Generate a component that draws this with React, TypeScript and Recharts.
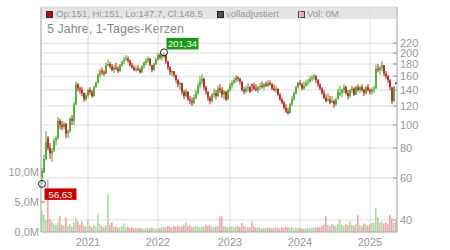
import React from 'react';
import { ComposedChart, Bar, XAxis, YAxis, CartesianGrid, ReferenceDot } from 'recharts';

const UP = '#44a826';
const DOWN = '#c01818';
const VOL_UP = '#aadca0';
const VOL_DOWN = '#f2a4ac';
const AXIS = '#b0b0b0';
const GRID = '#dcdcdc';
const LABEL = '#999';

const YEAR_TICKS = [23, 58, 94, 129, 164];
const YEAR_LABELS = ['2021', '2022', '2023', '2024', '2025'];
const PRICE_TICKS = [40, 60, 80, 100, 120, 140, 160, 180, 200, 220];
const VOLUME_TICKS = [0, 5, 10];

// one candle per ~10 days: [open, high, low, close]
const CANDLES: number[][] = [
  [60, 66, 56.63, 64], [64, 75, 63, 72], [72, 94, 71, 85], [88, 90, 78, 80], [80, 84, 72, 76],
  [76, 80, 70, 78], [78, 88, 77, 86], [86, 90, 82, 88], [88, 108, 87, 104], [104, 106, 96, 100],
  [100, 104, 95, 98], [98, 103, 96, 101], [101, 102, 88, 92], [92, 96, 88, 94], [94, 108, 93, 106],
  [106, 110, 100, 104], [104, 125, 100, 122], [122, 152, 121, 148], [148, 150, 138, 142], [142, 145, 135, 140],
  [140, 144, 132, 136], [136, 137, 125, 128], [128, 136, 126, 133], [133, 142, 130, 140], [140, 144, 134, 137],
  [137, 140, 130, 132], [132, 146, 131, 144], [144, 152, 143, 150], [150, 165, 149, 162], [162, 172, 158, 168],
  [168, 174, 162, 166], [166, 170, 160, 164], [164, 182, 163, 178], [178, 188, 176, 180], [180, 184, 172, 176],
  [176, 180, 168, 170], [170, 178, 165, 174], [174, 182, 170, 172], [172, 176, 165, 168], [168, 180, 167, 178],
  [178, 186, 175, 184], [184, 192, 180, 188], [188, 196, 185, 190], [190, 194, 182, 186], [186, 188, 176, 178],
  [178, 182, 172, 174], [174, 178, 168, 170], [170, 176, 166, 172], [172, 178, 168, 170], [170, 174, 164, 166],
  [166, 178, 165, 176], [176, 184, 172, 182], [182, 190, 178, 186], [186, 194, 182, 190], [190, 190, 176, 178],
  [178, 178, 166, 170], [170, 182, 168, 180], [180, 192, 178, 188], [188, 200, 186, 196], [196, 199, 188, 192],
  [192, 198, 186, 194], [194, 201.34, 190, 196], [196, 197, 180, 184], [184, 186, 170, 174], [174, 176, 162, 166],
  [166, 170, 160, 168], [168, 168, 158, 162], [162, 162, 150, 154], [154, 156, 144, 148], [148, 152, 140, 150],
  [150, 150, 134, 138], [138, 140, 128, 132], [132, 142, 130, 138], [138, 138, 126, 128], [128, 132, 122, 126],
  [126, 130, 120, 124], [124, 134, 122, 130], [130, 140, 128, 136], [136, 150, 134, 146], [146, 160, 142, 152],
  [152, 163, 148, 156], [156, 158, 140, 144], [144, 146, 134, 138], [138, 138, 126, 130], [130, 132, 122, 126],
  [126, 136, 124, 134], [134, 142, 130, 136], [136, 140, 128, 132], [132, 146, 131, 142], [142, 148, 136, 140],
  [140, 144, 130, 134], [134, 140, 128, 138], [138, 138, 126, 128], [128, 142, 127, 140], [140, 150, 138, 146],
  [146, 154, 142, 150], [150, 158, 148, 154], [154, 162, 150, 158], [158, 160, 152, 156], [156, 158, 148, 152],
  [152, 152, 138, 140], [140, 144, 134, 138], [138, 146, 136, 142], [142, 150, 138, 144], [144, 146, 136, 138],
  [148, 149, 138, 146], [146, 150, 140, 142], [142, 148, 138, 140], [140, 146, 136, 144], [144, 150, 140, 146],
  [146, 152, 142, 144], [144, 150, 140, 148], [148, 152, 144, 146], [146, 154, 144, 150], [150, 154, 146, 148],
  [148, 150, 140, 142], [142, 148, 138, 140], [140, 146, 136, 142], [142, 142, 132, 134], [134, 136, 126, 128],
  [128, 130, 122, 124], [124, 126, 116, 118], [118, 122, 112, 114], [114, 118, 110, 112], [112, 124, 112, 122],
  [122, 132, 120, 128], [128, 138, 126, 136], [136, 146, 134, 144], [144, 152, 142, 150], [150, 154, 146, 148],
  [148, 150, 140, 142], [142, 152, 140, 146], [146, 154, 144, 150], [150, 156, 146, 152], [152, 160, 150, 156],
  [156, 162, 152, 158], [158, 164, 154, 160], [160, 162, 150, 154], [154, 156, 144, 148], [148, 150, 140, 142],
  [142, 144, 134, 136], [136, 140, 128, 130], [130, 134, 124, 126], [126, 136, 126, 128], [128, 132, 122, 124],
  [124, 132, 124, 126], [126, 128, 118, 122], [122, 130, 120, 128], [128, 142, 128, 138], [134, 146, 132, 136],
  [136, 142, 130, 140], [140, 148, 136, 144], [144, 146, 134, 136], [136, 140, 128, 132], [132, 142, 130, 140],
  [140, 146, 136, 142], [142, 144, 132, 134], [134, 146, 134, 144], [144, 148, 138, 140], [140, 146, 136, 144],
  [144, 148, 138, 140], [140, 142, 132, 136], [136, 146, 134, 144], [144, 148, 138, 140], [140, 142, 134, 138],
  [138, 144, 134, 140], [140, 146, 136, 142], [142, 178, 142, 172], [172, 180, 166, 170], [170, 176, 162, 174],
  [174, 185, 168, 178], [178, 178, 160, 164], [164, 168, 156, 160], [160, 162, 150, 154], [154, 156, 140, 144],
  [144, 144, 122, 126], [126, 146, 124, 144], [151, 151, 147.7, 148.5],
];

// volume in millions, one per candle
const VOLUMES = [
  3.5, 2.9, 2.0, 8.8, 2.2, 1.8, 1.4, 1.2, 1.6, 2.6,
  1.2, 1.0, 2.4, 1.1, 1.3, 0.9, 1.6, 2.4, 1.8, 1.2,
  1.8, 1.0, 0.9, 2.0, 1.0, 0.8, 1.2, 0.9, 2.9, 1.3,
  1.0, 0.8, 1.1, 6.3, 1.2, 1.6, 0.8, 0.9, 0.7, 0.8,
  1.0, 1.4, 0.8, 0.9, 0.7, 0.8, 0.6, 0.7, 0.6, 0.7,
  0.6, 0.5, 0.6, 0.7, 0.6, 0.8, 0.6, 0.5, 0.6, 0.7,
  0.8, 0.9, 0.8, 1.0, 0.9, 0.8, 1.0, 0.9, 1.1, 0.9,
  1.0, 1.2, 1.6, 1.0, 1.1, 0.9, 0.8, 1.0, 0.9, 0.8,
  1.0, 0.9, 1.2, 1.0, 1.1, 0.9, 0.8, 0.9, 1.0, 2.6,
  2.6, 1.0, 0.9, 0.8, 1.0, 0.9, 0.8, 0.9, 1.0, 0.8,
  1.5, 1.0, 0.8, 0.9, 0.8, 1.8, 0.9, 0.7, 0.8, 0.7,
  0.6, 0.7, 0.6, 0.8, 0.7, 0.6, 0.7, 0.8, 0.7, 0.6,
  0.8, 0.7, 0.9, 0.8, 0.7, 0.8, 0.6, 0.7, 0.6, 0.7,
  0.6, 0.5, 0.6, 0.7, 0.6, 0.7, 0.8, 0.7, 0.9, 0.8,
  1.0, 1.2, 2.6, 1.2, 1.0, 1.3, 1.1, 1.0, 1.4, 2.1,
  1.2, 1.0, 1.3, 1.1, 1.8, 1.2, 1.0, 1.3, 2.8, 1.2,
  1.0, 1.4, 1.2, 1.1, 1.3, 1.5, 1.6, 4.0, 2.4, 1.6,
  1.8, 1.4, 1.6, 1.3, 2.8, 2.3, 1.5, 1.8,
];

const MAX_INDEX = 61;
const MAX_LABEL = '201,34';
const MIN_INDEX = 0;
const MIN_LABEL = '56,63';

const data = CANDLES.map(([o, h, l, c], i) => ({ i, o, h, l, c, range: [l, h], vol: VOLUMES[i] }));

const Candle = (props: any) => {
  const { x, y, width, height } = props;
  const p = props.payload || props;
  if (x == null || y == null || !p) return null;
  const top = Math.min(y, y + height);
  const bottom = Math.max(y, y + height);
  const span = Math.log(p.h) - Math.log(p.l);
  const toY = (v: number) => (span > 0 ? top + ((Math.log(p.h) - Math.log(v)) / span) * (bottom - top) : top);
  const color = p.c >= p.o ? UP : DOWN;
  const cx = x + width / 2;
  const bTop = toY(Math.max(p.o, p.c));
  const bBottom = toY(Math.min(p.o, p.c));
  return (
    <g>
      <line x1={cx} x2={cx} y1={top} y2={bottom} stroke={color} strokeWidth={1} />
      <rect x={cx - 0.8} y={bTop} width={1.6} height={Math.max(1, bBottom - bTop)} fill={color} />
    </g>
  );
};

const VolumeBar = (props: any) => {
  const { x, y, width, height } = props;
  const p = props.payload || props;
  if (x == null || y == null || !height) return null;
  return <rect x={x} y={y} width={Math.max(1, width - 0.4)} height={height} fill={p.c >= p.o ? VOL_UP : VOL_DOWN} />;
};

const PriceTick = (props: any) => {
  const { x, y, payload } = props;
  return (
    <g>
      <line x1={x - 7} x2={x - 3} y1={y} y2={y} stroke={LABEL} />
      <text x={x} y={y} dy={4} fontSize={11} fill={LABEL} textAnchor="start">{payload.value}</text>
    </g>
  );
};

const VolumeTick = (props: any) => {
  const { x, y, payload } = props;
  return (
    <g>
      {payload.value > 0 && <line x1={x + 2} x2={x + 6} y1={y} y2={y} stroke="#777" />}
      <text x={x} y={y} dy={4} fontSize={11} fill={LABEL} textAnchor="end">
        {payload.value.toFixed(1).replace('.', ',') + 'M'}
      </text>
    </g>
  );
};

const Marker = (label: string, fill: string, above: boolean) => (props: any) => {
  const { cx, cy } = props;
  if (cx == null || cy == null) return null;
  const w = 32;
  const h = 11.5;
  const bx = cx + 2.5;
  const by = above ? cy - 14.5 : cy + 4.5;
  return (
    <g>
      <circle cx={cx} cy={cy} r={3.5} fill="none" stroke="#222" strokeWidth={1} />
      <rect x={bx} y={by} width={w} height={h} fill={fill} />
      <text x={bx + w / 2} y={by + h / 2} dy={3.4} fontSize={9.5} fill="#fff" textAnchor="middle">{label}</text>
    </g>
  );
};

export default function App() {
  return (
    <div style={{ position: 'absolute', left: 0, top: 0, width: 450, height: 250, fontFamily: 'Arial, "Liberation Sans", sans-serif', background: '#fff' }}>
      <svg width={450} height={250} style={{ position: 'absolute', left: 0, top: 0 }}>
        <rect x={41} y={7} width={356} height={12} fill="#e4e4e4" />
        <rect x={46.5} y={11.5} width={6} height={6} fill="#b01010" stroke="#333" strokeWidth={1} />
        <text x={56} y={17.3} fontSize={9.5} fill={LABEL}>Op:151, Hi:151, Lo:147.7, Cl:148.5</text>
        <rect x={217.5} y={11.5} width={6} height={6} fill="#555" stroke="#222" strokeWidth={1} />
        <text x={226} y={17.3} fontSize={9.5} fill={LABEL}>volladjustiert</text>
        <rect x={298.5} y={11.5} width={6} height={6} fill={VOL_DOWN} stroke="#444" strokeWidth={1} />
        <text x={307} y={17.3} fontSize={9.5} fill={LABEL}>Vol: 0M</text>
        <text x={47} y={33.3} fontSize={12.5} fill="#888">5 Jahre, 1-Tages-Kerzen</text>
      </svg>
      <div style={{ position: 'absolute', left: 0, top: 0 }}>
        <ComposedChart width={450} height={250} data={data} margin={{ top: 7, right: 0, bottom: 0, left: 0 }} barCategoryGap={0} barGap={0}>
          <CartesianGrid xAxisId="main" yAxisId="price" stroke={GRID} strokeWidth={1} />
          <XAxis
            xAxisId="main"
            dataKey="i"
            type="category"
            height={18}
            ticks={YEAR_TICKS}
            interval={0}
            tickFormatter={(v: number) => YEAR_LABELS[YEAR_TICKS.indexOf(v)]}
            tickLine={false}
            tickSize={4}
            tickMargin={2}
            axisLine={{ stroke: AXIS }}
            tick={{ fill: LABEL, fontSize: 11 }}
          />
          <XAxis xAxisId="vol" dataKey="i" type="category" hide />
          <YAxis
            yAxisId="vol"
            orientation="left"
            width={41}
            domain={[0, 37.5]}
            ticks={VOLUME_TICKS}
            interval={0}
            allowDataOverflow
            axisLine={{ stroke: AXIS }}
            tickLine={false}
            tickSize={0}
            tickMargin={2}
            tick={<VolumeTick />}
          />
          <YAxis
            yAxisId="price"
            orientation="right"
            width={53}
            scale="log"
            domain={[35.6, 312]}
            ticks={PRICE_TICKS}
            interval={0}
            allowDataOverflow
            axisLine={{ stroke: AXIS }}
            tickLine={false}
            tickSize={0}
            tickMargin={3}
            tick={<PriceTick />}
          />
          <Bar xAxisId="vol" yAxisId="vol" dataKey="vol" shape={<VolumeBar />} isAnimationActive={false} />
          <Bar xAxisId="main" yAxisId="price" dataKey="range" shape={<Candle />} isAnimationActive={false} />
          <ReferenceDot
            xAxisId="main"
            yAxisId="price"
            x={MAX_INDEX}
            y={CANDLES[MAX_INDEX][1]}
            shape={Marker(MAX_LABEL, '#119a11', true)}
          />
          <ReferenceDot
            xAxisId="main"
            yAxisId="price"
            x={MIN_INDEX}
            y={CANDLES[MIN_INDEX][2]}
            shape={Marker(MIN_LABEL, '#cc0000', false)}
          />
        </ComposedChart>
      </div>
    </div>
  );
}
